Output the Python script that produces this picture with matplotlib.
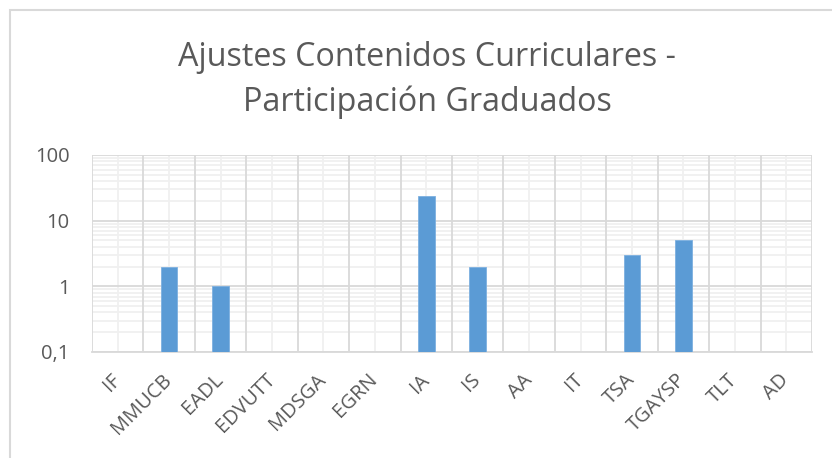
import matplotlib
matplotlib.use("Agg")
import matplotlib.pyplot as plt
from matplotlib.patches import Rectangle
import numpy as np

categories = ["IF", "MMUCB", "EADL", "EDVUTT", "MDSGA", "EGRN", "IA", "IS",
              "AA", "IT", "TSA", "TGAYSP", "TLT", "AD"]
values = [0, 2, 1, 0, 0, 0, 24, 2, 0, 0, 3, 5, 0, 0]
y_ticks = [0.1, 1, 10, 100]
y_tick_labels = ["0,1", "1", "10", "100"]
title = "Ajustes Contenidos Curriculares -\nParticipación Graduados"

plt.rcParams['font.family'] = ['Open Sans', 'DejaVu Sans']
text_color = "#595959"

fig = plt.figure(figsize=(8.32, 4.58), dpi=100)
W, H = 832, 458
fig.patches.append(Rectangle((10 / W, -0.1), 1.2, 1 - 10 / H + 0.1,
                             transform=fig.transFigure, fill=False,
                             edgecolor="#D9D9D9", linewidth=1.5))

ax = fig.add_axes([92 / W, 1 - 352 / H, (812 - 92) / W, (352 - 155) / H])
x = np.arange(len(categories))
pos = [i for i, v in enumerate(values) if v > 0]
ax.bar([x[i] for i in pos], [values[i] for i in pos], width=0.32,
       color="#5B9BD5", edgecolor="#7DB0E0", linewidth=0.6, zorder=3)

ax.set_yscale("log")
ax.set_ylim(0.1, 100)
ax.set_xlim(-0.5, len(categories) - 0.5)

ax.set_yticks(y_ticks)
ax.set_yticklabels(y_tick_labels)
ax.yaxis.set_minor_locator(matplotlib.ticker.LogLocator(base=10, subs=np.arange(2, 10)))
ax.yaxis.set_minor_formatter(matplotlib.ticker.NullFormatter())

ax.set_xticks(x)
ax.set_xticklabels(categories, rotation=45, ha="right", va="center",
                   rotation_mode="anchor")

# gridlines
for b in np.arange(-0.5, len(categories) + 0.5):
    ax.axvline(b, color="#D9D9D9", linewidth=1.3, zorder=1)
for c in x:
    ax.axvline(c, color="#F0F0F0", linewidth=1.3, zorder=0.5)
ax.grid(True, which="major", axis="y", color="#D9D9D9", linewidth=1.3, zorder=1)
ax.grid(True, which="minor", axis="y", color="#F0F0F0", linewidth=1.3, zorder=0.5)

for s in ["top", "left", "right"]:
    ax.spines[s].set_visible(False)
ax.spines["bottom"].set_color("#D9D9D9")
ax.spines["bottom"].set_linewidth(1.3)

ax.tick_params(axis="both", which="both", length=0, colors=text_color, labelsize=14.5)
ax.tick_params(axis="x", pad=18)
ax.tick_params(axis="y", pad=16)
ax.set_axisbelow(True)

fig.text(427 / W, 1 - 80 / H, title, ha="center", va="center", fontsize=23.2,
         color=text_color, linespacing=1.45)

fig.savefig("out.png", dpi=100)
